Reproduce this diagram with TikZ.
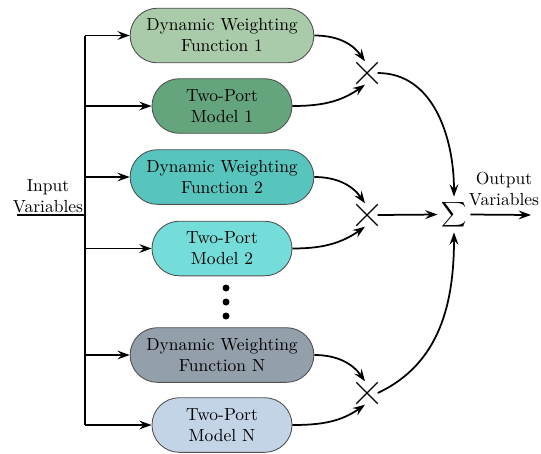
\documentclass[tikz,border=0pt]{standalone}
\usetikzlibrary{arrows.meta,shapes.misc,calc}
\definecolor{cA}{HTML}{A9CBA9}
\definecolor{cB}{HTML}{64A57E}
\definecolor{cC}{HTML}{57C4BE}
\definecolor{cD}{HTML}{74DDD9}
\definecolor{cE}{HTML}{939FAB}
\definecolor{cF}{HTML}{C4D4E7}
\definecolor{edgec}{HTML}{505050}
\tikzset{
  blockbox/.style={draw=edgec, line width=0.5pt, rounded corners=15.6pt, minimum height=31.2pt, align=center, inner sep=1pt},
  dwf/.style={blockbox, minimum width=105pt},
  tpm/.style={blockbox, minimum width=80pt},
  mult/.style={cross out, draw=black, line width=0.7pt, minimum size=11.5pt, inner sep=0pt},
  arr/.style={line width=1pt, -{Stealth[length=7pt,width=5pt,inset=2.5pt]}},
  ln/.style={line width=1pt},
  lab/.style={align=center, inner sep=0pt}
}
\begin{document}
\begin{tikzpicture}[x=0.5714pt,y=-0.5714pt]
\useasboundingbox (0,0) rectangle (541,453);
% blocks
\node[dwf, fill=cA] (d1) at (222,35.5) {Dynamic Weighting\\Function 1};
\node[tpm, fill=cB] (t1) at (222,106) {Two-Port\\Model 1};
\node[dwf, fill=cC] (d2) at (222,177) {Dynamic Weighting\\Function 2};
\node[tpm, fill=cD] (t2) at (222,248.5) {Two-Port\\Model 2};
\node[dwf, fill=cE] (dN) at (222,355) {Dynamic Weighting\\Function N};
\node[tpm, fill=cF] (tN) at (222,425) {Two-Port\\Model N};
% dots
\fill (226,288) circle (2pt) (226,302) circle (2pt) (226,316) circle (2pt);
% multipliers and sum
\node[mult] (m1) at (367,73) {};
\node[mult] (m2) at (367,215) {};
\node[mult] (m3) at (367,393) {};
\node[inner sep=2pt] (s) at (454,214.5) {$\displaystyle\sum$};
% labels
\node[lab] (inl) at (48,196) {Input\\Variables};
\node[lab] (outl) at (504,189.5) {Output\\Variables};
% input bus
\coordinate (in) at (17,215);
\coordinate (bus) at (85,215);
\coordinate (out) at (531,215);
\draw[ln] (in) -- (bus);
\draw[ln] (bus |- d1.west) -- (bus |- tN.west);
\foreach \b in {d1,t1,d2,t2,dN,tN}{
  \draw[arr] (bus |- \b.west) -- (\b.west);
}
% into multipliers
\draw[arr] (d1.east) to[out=0,in=125] ($(m1.north)+(-2,-1)$);
\draw[arr] (t1.east) to[out=0,in=-145] ($(m1.south)+(-2,1)$);
\draw[arr] (d2.east) to[out=0,in=125] ($(m2.north)+(-2,-1)$);
\draw[arr] (t2.east) to[out=0,in=-145] ($(m2.south)+(-2,1)$);
\draw[arr] (dN.east) to[out=0,in=125] ($(m3.north)+(-2,-1)$);
\draw[arr] (tN.east) to[out=0,in=-145] ($(m3.south)+(-2,1)$);
% into sum
\draw[arr] (m1.east) to[out=0,in=90] (s.north);
\draw[arr] (m2.east) -- (s.west);
\draw[arr] (m3.east) to[out=25,in=-90] (s.south);
\draw[arr] (s.east) -- (out);
\end{tikzpicture}
\end{document}
